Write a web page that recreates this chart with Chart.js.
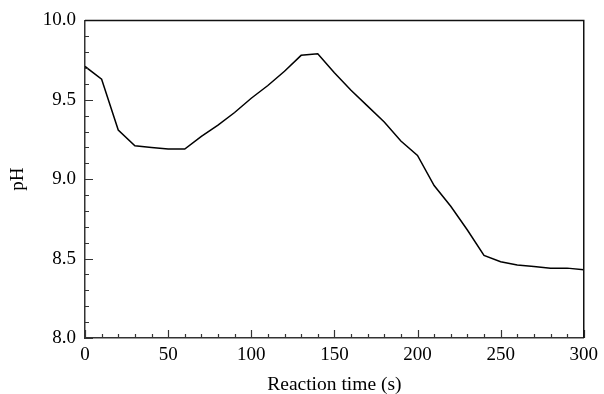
<!DOCTYPE html>
<html>
<head>
<meta charset="utf-8">
<script src="https://cdn.jsdelivr.net/npm/chart.js@4"></script>
<style>
  html, body { margin: 0; padding: 0; background: #fff; }
  #wrap { width: 604px; height: 394px; }
</style>
</head>
<body>
<div id="wrap"><canvas id="ph-chart" width="604" height="394"></canvas></div>
<script>
const timeS = [0, 10, 20, 30, 40, 50, 60, 70, 80, 90, 100, 110, 120, 130, 140, 150,
  160, 170, 180, 190, 200, 210, 220, 230, 240, 250, 260, 270, 280, 290, 300];
const phValues = [9.71, 9.63, 9.31, 9.21, 9.20, 9.19, 9.19, 9.27, 9.34, 9.42, 9.51,
  9.59, 9.68, 9.78, 9.79, 9.67, 9.56, 9.46, 9.36, 9.24, 9.15, 8.96, 8.83, 8.68,
  8.52, 8.48, 8.46, 8.45, 8.44, 8.44, 8.43];

const xMajor = [0, 50, 100, 150, 200, 250, 300];
const yMajor = [8.0, 8.5, 9.0, 9.5, 10.0];

const FONT = "'Liberation Serif', 'Times New Roman', serif";
const AXIS = "#333";

// inward ticks (major + minor) and the top/right frame
const frameTicks = {
  id: "frameTicks",
  afterDraw(chart) {
    const { ctx, chartArea: a, scales } = chart;
    const xs = scales.x, ys = scales.y;
    ctx.save();
    ctx.strokeStyle = AXIS;
    ctx.lineWidth = 1.2;
    ctx.beginPath();
    for (let v = 0; v <= 300; v += 10) {
      const px = Math.round(xs.getPixelForValue(v)) + 0.5;
      const len = v % 50 === 0 ? 8 : 4;
      ctx.moveTo(px, a.bottom);
      ctx.lineTo(px, a.bottom - len);
    }
    for (let i = 0; i <= 20; i++) {
      const v = 8 + i * 0.1;
      const py = Math.round(ys.getPixelForValue(v)) + 0.5;
      const len = i % 5 === 0 ? 8 : 4;
      ctx.moveTo(a.left, py);
      ctx.lineTo(a.left + len, py);
    }
    ctx.stroke();
    ctx.lineWidth = 1.5;
    ctx.strokeStyle = "#111";
    ctx.beginPath();
    ctx.moveTo(a.left, a.top);
    ctx.lineTo(a.right, a.top);
    ctx.lineTo(a.right, a.bottom);
    ctx.stroke();
    ctx.restore();
  },
};

new Chart(document.getElementById("ph-chart"), {
  type: "line",
  data: {
    labels: timeS,
    datasets: [
      {
        data: timeS.map((t, i) => ({ x: t, y: phValues[i] })),
        borderColor: "#000",
        borderWidth: 1.5,
        pointRadius: 0,
        tension: 0,
        fill: false,
      },
    ],
  },
  options: {
    responsive: false,
    animation: false,
    events: [],
    layout: { padding: { top: 20, right: 17, left: 0, bottom: 0 } },
    plugins: { legend: { display: false }, tooltip: { enabled: false } },
    scales: {
      x: {
        type: "linear",
        min: 0,
        max: 300,
        afterBuildTicks: (s) => { s.ticks = xMajor.map((v) => ({ value: v })); },
        afterFit: (s) => { s.height = 56; },
        grid: { display: false, drawTicks: false },
        border: { display: true, color: AXIS, width: 1.5 },
        ticks: {
          color: "#000",
          padding: 6,
          maxRotation: 0,
          font: { family: FONT, size: 19 },
        },
        title: {
          display: true,
          text: "Reaction time (s)",
          color: "#000",
          padding: { top: 7, bottom: -3 },
          font: { family: FONT, size: 19.5 },
        },
      },
      y: {
        min: 8,
        max: 10,
        afterBuildTicks: (s) => { s.ticks = yMajor.map((v) => ({ value: v })); },
        afterFit: (s) => { s.width = 85; },
        grid: { display: false, drawTicks: false },
        border: { display: true, color: AXIS, width: 1.5 },
        ticks: {
          color: "#000",
          padding: 9,
          font: { family: FONT, size: 19 },
          callback: (v) => Number(v).toFixed(1),
        },
        title: {
          display: true,
          text: "pH",
          color: "#000",
          padding: { top: 7, bottom: 0 },
          font: { family: FONT, size: 19 },
        },
      },
    },
  },
  plugins: [frameTicks],
});
</script>
</body>
</html>
